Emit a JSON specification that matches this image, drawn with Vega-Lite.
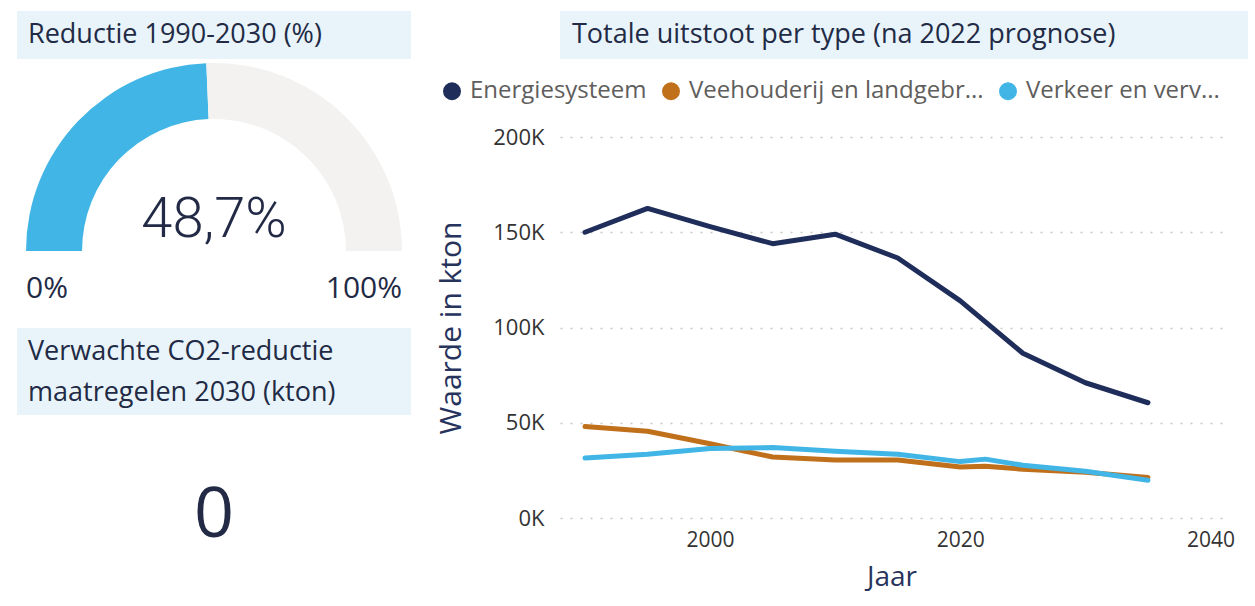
{
  "$schema": "https://vega.github.io/schema/vega-lite/v6.json",
  "padding": {"left": 17, "top": 11, "right": 0, "bottom": 0},
  "background": "white",
  "config": {
    "font": "Open Sans",
    "locale": {"number": {"decimal": ",", "thousands": ".", "grouping": [3], "currency": ["€", ""]}},
    "view": {"stroke": null},
    "title": {"font": "Open Sans", "fontSize": 27, "fontWeight": "normal", "color": "#222A45", "anchor": "start", "frame": "group", "lineHeight": 41}
  },
  "resolve": {"scale": {"color": "independent", "theta": "independent", "x": "independent", "y": "independent"}, "legend": {"color": "independent"}},
  "datasets": {
    "gauge": [
      {"part": "Reductie", "v": 0.487},
      {"part": "Resterend", "v": 0.513}
    ],
    "gaugeEnds": [
      {"pos": 0},
      {"pos": 1}
    ],
    "kpi": [
      {"maatregelen": 0}
    ],
    "uitstoot": [
      {"type": "Energiesysteem", "jaar": 1990, "waarde": 150000},
      {"type": "Energiesysteem", "jaar": 1995, "waarde": 162500},
      {"type": "Energiesysteem", "jaar": 2000, "waarde": 153000},
      {"type": "Energiesysteem", "jaar": 2005, "waarde": 144000},
      {"type": "Energiesysteem", "jaar": 2010, "waarde": 149000},
      {"type": "Energiesysteem", "jaar": 2015, "waarde": 136500},
      {"type": "Energiesysteem", "jaar": 2020, "waarde": 114000},
      {"type": "Energiesysteem", "jaar": 2025, "waarde": 86500},
      {"type": "Energiesysteem", "jaar": 2030, "waarde": 71000},
      {"type": "Energiesysteem", "jaar": 2035, "waarde": 60500},
      {"type": "Veehouderij en landgebruik", "jaar": 1990, "waarde": 48000},
      {"type": "Veehouderij en landgebruik", "jaar": 1995, "waarde": 45500},
      {"type": "Veehouderij en landgebruik", "jaar": 2000, "waarde": 39000},
      {"type": "Veehouderij en landgebruik", "jaar": 2005, "waarde": 32000},
      {"type": "Veehouderij en landgebruik", "jaar": 2010, "waarde": 30500},
      {"type": "Veehouderij en landgebruik", "jaar": 2015, "waarde": 30500},
      {"type": "Veehouderij en landgebruik", "jaar": 2020, "waarde": 26800},
      {"type": "Veehouderij en landgebruik", "jaar": 2022, "waarde": 27200},
      {"type": "Veehouderij en landgebruik", "jaar": 2025, "waarde": 25600},
      {"type": "Veehouderij en landgebruik", "jaar": 2030, "waarde": 24000},
      {"type": "Veehouderij en landgebruik", "jaar": 2035, "waarde": 21200},
      {"type": "Verkeer en vervoer", "jaar": 1990, "waarde": 31500},
      {"type": "Verkeer en vervoer", "jaar": 1995, "waarde": 33500},
      {"type": "Verkeer en vervoer", "jaar": 2000, "waarde": 36500},
      {"type": "Verkeer en vervoer", "jaar": 2005, "waarde": 37000},
      {"type": "Verkeer en vervoer", "jaar": 2010, "waarde": 35000},
      {"type": "Verkeer en vervoer", "jaar": 2015, "waarde": 33500},
      {"type": "Verkeer en vervoer", "jaar": 2020, "waarde": 29600},
      {"type": "Verkeer en vervoer", "jaar": 2022, "waarde": 30900},
      {"type": "Verkeer en vervoer", "jaar": 2025, "waarde": 27700},
      {"type": "Verkeer en vervoer", "jaar": 2030, "waarde": 24500},
      {"type": "Verkeer en vervoer", "jaar": 2035, "waarde": 19800}
    ]
  },
  "spacing": 17,
  "hconcat": [
    {
      "spacing": 23,
      "resolve": {"scale": {"color": "independent", "theta": "independent"}, "legend": {"color": "independent"}},
      "vconcat": [
        {
          "spacing": 0,
          "resolve": {"scale": {"color": "independent", "theta": "independent"}, "legend": {"color": "independent"}},
          "vconcat": [
            {
              "width": 394, "height": 48,
              "view": {"fill": "#E8F4FA", "stroke": null},
              "title": {"text": "Reductie 1990-2030 (%)", "orient": "top", "offset": -38, "dx": 11},
              "data": {"values": []},
              "mark": "text",
              "encoding": {}
            },
            {
              "width": 394, "height": 192,
              "layer": [
                {
                  "data": {"name": "gauge"},
                  "mark": {"type": "arc", "innerRadius": 132, "outerRadius": 188, "y": "height"},
                  "encoding": {
                    "theta": {"field": "v", "type": "quantitative", "stack": true, "scale": {"domain": [0, 1], "range": [-1.5708, 1.5708]}},
                    "color": {"field": "part", "type": "nominal", "scale": {"domain": ["Reductie", "Resterend"], "range": ["#41B6E6", "#F3F2F1"]}, "legend": null},
                    "order": {"field": "part", "type": "ordinal", "sort": "ascending"}
                  }
                },
                {
                  "data": {"name": "gauge"},
                  "transform": [{"filter": "datum.part == 'Reductie'"}],
                  "mark": {"type": "text", "y": "height", "dy": -31, "baseline": "middle", "align": "center", "font": "Roboto", "fontWeight": 300, "fontSize": 56, "color": "#222A45"},
                  "encoding": {
                    "text": {"field": "v", "type": "quantitative", "format": ".1%"}
                  }
                },
                {
                  "data": {"name": "gaugeEnds"},
                  "transform": [{"filter": "datum.pos == 0"}],
                  "mark": {"type": "text", "y": "height", "radius": 188, "dy": 47, "baseline": "alphabetic", "align": "left", "fontSize": 30, "color": "#222A45"},
                  "encoding": {
                    "theta": {"field": "pos", "type": "quantitative"},
                    "text": {"field": "pos", "type": "quantitative", "format": ".0%"}
                  }
                },
                {
                  "data": {"name": "gaugeEnds"},
                  "transform": [{"filter": "datum.pos == 1"}],
                  "mark": {"type": "text", "y": "height", "radius": 188, "dy": 47, "baseline": "alphabetic", "align": "right", "fontSize": 30, "color": "#222A45"},
                  "encoding": {
                    "theta": {"field": "pos", "type": "quantitative"},
                    "text": {"field": "pos", "type": "quantitative", "format": ".0%"}
                  }
                }
              ]
            }
          ]
        },
        {
          "spacing": 0,
          "vconcat": [
            {
              "width": 394, "height": 87,
              "view": {"fill": "#E8F4FA", "stroke": null},
              "title": {"text": ["Verwachte CO2-reductie", "maatregelen 2030 (kton)"], "orient": "top", "offset": -79, "dx": 11},
              "data": {"values": []},
              "mark": "text",
              "encoding": {}
            },
            {
              "width": 394, "height": 178,
              "data": {"name": "kpi"},
              "mark": {"type": "text", "fontSize": 70, "baseline": "middle", "dy": 12, "color": "#222A45"},
              "encoding": {
                "text": {"field": "maatregelen", "type": "quantitative", "format": "d"}
              }
            }
          ]
        }
      ]
    },
    {
      "spacing": 8,
      "resolve": {"scale": {"color": "independent"}, "legend": {"color": "independent"}},
      "vconcat": [
        {
          "width": 688, "height": 48,
          "view": {"fill": "#E8F4FA", "stroke": null},
          "title": {"text": "Totale uitstoot per type (na 2022 prognose)", "orient": "top", "offset": -38, "dx": 12},
          "data": {"values": []},
          "mark": "text",
          "encoding": {}
        },
        {
          "width": 663, "height": 381,
          "data": {"name": "uitstoot"},
          "mark": {"type": "line", "strokeWidth": 5, "strokeCap": "round", "strokeJoin": "round"},
          "encoding": {
            "x": {
              "field": "jaar", "type": "quantitative",
              "scale": {"domain": [1988, 2041], "nice": false, "zero": false},
              "axis": {"title": "Jaar", "values": [2000, 2020, 2040], "format": "d", "grid": false, "domain": false, "ticks": false, "labelFontSize": 21, "labelColor": "#333333", "labelPadding": 11, "titleFontSize": 28, "titleFontWeight": "normal", "titleColor": "#26335C", "titlePadding": 13}
            },
            "y": {
              "field": "waarde", "type": "quantitative",
              "scale": {"domain": [0, 200000], "nice": false},
              "axis": {"title": "Waarde in kton", "values": [0, 50000, 100000, 150000, 200000], "labelExpr": "(datum.value / 1000) + 'K'", "grid": true, "gridDash": [2, 8], "gridColor": "#C8C8C8", "gridWidth": 1.5, "domain": false, "ticks": false, "labelFontSize": 22, "labelColor": "#333333", "labelPadding": 16, "titleFontSize": 30, "titleFontWeight": "normal", "titleColor": "#26335C", "titlePadding": 26}
            },
            "color": {
              "field": "type", "type": "nominal",
              "scale": {"domain": ["Energiesysteem", "Veehouderij en landgebruik", "Verkeer en vervoer"], "range": ["#1F2D5A", "#C0701A", "#41B6E6"]},
              "legend": {
                "title": null, "orient": "none", "direction": "horizontal", "legendX": -132, "legendY": -70, "padding": 12,
                "symbolType": "circle", "symbolSize": 81, "symbolStrokeWidth": 9, "symbolOpacity": 1,
                "labelFontSize": 24, "labelColor": "#605E5C", "labelOffset": 6, "columnPadding": 1, "labelLimit": 400,
                "labelExpr": "datum.label == 'Veehouderij en landgebruik' ? 'Veehouderij en landgebr...' : datum.label == 'Verkeer en vervoer' ? 'Verkeer en verv...' : datum.label"
              }
            }
          }
        }
      ]
    }
  ]
}
